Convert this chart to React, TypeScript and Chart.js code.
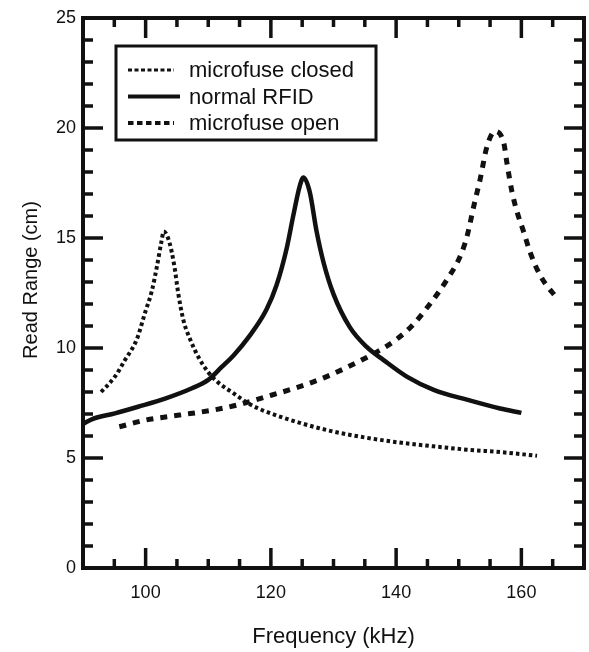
import React, { useEffect, useRef } from 'react';
import { Chart, registerables } from 'chart.js';

Chart.register(...registerables);

// ---- Data ----
const seriesLabels = ['microfuse closed', 'normal RFID', 'microfuse open'];

const closedFreq = [92.9, 95.1, 96.7, 98.6, 99.9, 101.0, 101.8, 102.5, 102.9, 103.8, 104.6, 105.2, 106.0, 107.1, 108.4, 110.0, 111.5, 114.0, 116.6, 119.3, 124.6, 130.0, 135.3, 140.6, 146.0, 151.3, 156.6, 162.5];
const closedRange = [8.0, 8.7, 9.45, 10.4, 11.6, 12.6, 13.7, 14.8, 15.3, 14.8, 13.7, 12.5, 11.3, 10.4, 9.6, 8.9, 8.45, 7.95, 7.45, 7.1, 6.6, 6.2, 5.92, 5.7, 5.53, 5.38, 5.27, 5.1];

const rfidFreq = [90.0, 91.4, 95.1, 98.8, 103.1, 107.4, 110.0, 112.2, 114.0, 116.6, 119.3, 120.9, 122.5, 123.6, 124.6, 125.2, 126.2, 127.3, 128.4, 130.0, 132.6, 135.3, 138.0, 141.7, 146.0, 151.3, 156.6, 160.0];
const rfidRange = [6.55, 6.76, 7.03, 7.33, 7.7, 8.17, 8.55, 9.15, 9.65, 10.55, 11.75, 12.85, 14.5, 16.05, 17.35, 17.75, 17.1, 15.3, 13.9, 12.45, 10.95, 10.05, 9.45, 8.7, 8.1, 7.65, 7.25, 7.05];

const openFreq = [95.8, 100.1, 105.4, 110.8, 114.5, 118.8, 124.1, 128.9, 135.3, 138.0, 140.1, 142.5, 145.4, 148.1, 150.2, 151.3, 152.4, 153.4, 154.5, 155.8, 157.2, 157.7, 158.5, 159.3, 160.4, 161.4, 163.0, 165.7];
const openRange = [6.42, 6.73, 6.95, 7.18, 7.4, 7.75, 8.2, 8.7, 9.57, 10.0, 10.4, 11.0, 12.0, 13.1, 14.15, 15.05, 16.45, 17.65, 19.15, 19.85, 19.3, 18.4, 17.1, 16.2, 15.25, 14.35, 13.3, 12.25];

const xTickValues = [100, 120, 140, 160];
const yTickValues = [0, 5, 10, 15, 20, 25];
const xTickMarks = [95, 100, 105, 110, 115, 120, 125, 130, 135, 140, 145, 150, 155, 160, 165];
const yTickMarks = [1, 2, 3, 4, 5, 6, 7, 8, 9, 10, 11, 12, 13, 14, 15, 16, 17, 18, 19, 20, 21, 22, 23, 24];

const FONT = "'Liberation Sans', Arial, Helvetica, sans-serif";
const INK = '#111111';

const toPoints = (xs: number[], ys: number[]) => xs.map((x, i) => ({ x, y: ys[i] }));

const framePlugin = {
  id: 'frameTicks',
  afterDraw(chart: any) {
    const { ctx, chartArea: a, scales } = chart;
    const xs = scales.x;
    const ys = scales.y;
    ctx.save();
    ctx.strokeStyle = INK;
    ctx.lineWidth = 3.5;
    ctx.lineCap = 'butt';
    ctx.beginPath();
    for (const v of xTickMarks) {
      const len = xTickValues.includes(v) ? 20 : 9;
      const px = xs.getPixelForValue(v);
      ctx.moveTo(px, a.bottom);
      ctx.lineTo(px, a.bottom - len);
      ctx.moveTo(px, a.top);
      ctx.lineTo(px, a.top + len);
    }
    for (const v of yTickMarks) {
      const len = yTickValues.includes(v) ? 20 : 10;
      const py = ys.getPixelForValue(v);
      ctx.moveTo(a.left, py);
      ctx.lineTo(a.left + len, py);
      ctx.moveTo(a.right, py);
      ctx.lineTo(a.right - len, py);
    }
    ctx.stroke();
    ctx.lineWidth = 4;
    ctx.lineJoin = 'miter';
    ctx.strokeRect(a.left, a.top, a.right - a.left, a.bottom - a.top);

    // y axis title
    ctx.fillStyle = INK;
    ctx.font = `20px ${FONT}`;
    ctx.textAlign = 'center';
    ctx.textBaseline = 'middle';
    ctx.translate(31, 280);
    ctx.rotate(-Math.PI / 2);
    ctx.fillText('Read Range (cm)', 0, 0);
    ctx.restore();
  },
};

const legendPlugin = {
  id: 'boxLegend',
  afterDraw(chart: any) {
    const { ctx, chartArea: a } = chart;
    const left = a.left + 33;
    const top = a.top + 28;
    const w = 260;
    const h = 94;
    ctx.save();
    ctx.fillStyle = '#ffffff';
    ctx.fillRect(left, top, w, h);
    ctx.strokeStyle = INK;
    ctx.lineWidth = 3;
    ctx.strokeRect(left, top, w, h);
    const rows = [top + 24, top + 50.5, top + 77];
    chart.data.datasets.forEach((ds: any, i: number) => {
      const y = rows[i];
      ctx.save();
      ctx.strokeStyle = ds.borderColor;
      ctx.lineWidth = i === 0 ? 3 : 4;
      ctx.setLineDash(i === 0 ? [4, 2.5] : i === 2 ? [5.5, 3.5] : []);
      ctx.beginPath();
      ctx.moveTo(left + 12, y);
      ctx.lineTo(left + (i === 1 ? 64 : 58), y);
      ctx.stroke();
      ctx.restore();
      ctx.fillStyle = INK;
      ctx.font = `22px ${FONT}`;
      ctx.textAlign = 'left';
      ctx.textBaseline = 'middle';
      ctx.fillText(ds.label, left + 73, y + 1);
    });
    ctx.restore();
  },
};

export default function App() {
  const canvasRef = useRef<HTMLCanvasElement | null>(null);

  useEffect(() => {
    const canvas = canvasRef.current;
    if (!canvas) return;
    const chart = new Chart(canvas, {
      type: 'line',
      data: {
        datasets: [
          {
            label: seriesLabels[0],
            data: toPoints(closedFreq, closedRange),
            borderColor: INK,
            borderWidth: 4,
            borderDash: [3.5, 3],
            borderCapStyle: 'butt',
            pointRadius: 0,
            fill: false,
            cubicInterpolationMode: 'monotone',
          },
          {
            label: seriesLabels[1],
            data: toPoints(rfidFreq, rfidRange),
            borderColor: INK,
            borderWidth: 4.5,
            pointRadius: 0,
            fill: false,
            cubicInterpolationMode: 'monotone',
          },
          {
            label: seriesLabels[2],
            data: toPoints(openFreq, openRange),
            borderColor: INK,
            borderWidth: 5,
            borderDash: [7, 7],
            borderCapStyle: 'butt',
            pointRadius: 0,
            fill: false,
            cubicInterpolationMode: 'monotone',
          },
        ],
      },
      options: {
        animation: false,
        responsive: false,
        devicePixelRatio: 1,
        layout: { padding: { left: 0, right: 5, top: 18, bottom: 0 } },
        plugins: {
          legend: { display: false },
          tooltip: { enabled: false },
        },
        scales: {
          x: {
            type: 'linear',
            min: 90,
            max: 170,
            grid: { display: false, drawTicks: false },
            border: { display: false },
            afterBuildTicks: (scale: any) => {
              scale.ticks = xTickValues.map((v) => ({ value: v }));
            },
            afterFit: (scale: any) => {
              scale.height = 84;
            },
            ticks: {
              color: INK,
              padding: 14,
              maxRotation: 0,
              font: { family: FONT, size: 18 },
            },
            title: {
              display: true,
              text: 'Frequency (kHz)',
              color: INK,
              font: { family: FONT, size: 22 },
              padding: { top: 0, bottom: 2 },
            },
          },
          y: {
            type: 'linear',
            min: 0,
            max: 25,
            grid: { display: false, drawTicks: false },
            border: { display: false },
            afterBuildTicks: (scale: any) => {
              scale.ticks = yTickValues.map((v) => ({ value: v }));
            },
            afterFit: (scale: any) => {
              scale.width = 83;
            },
            ticks: {
              color: INK,
              padding: 7,
              font: { family: FONT, size: 18 },
            },
            title: { display: false },
          },
        },
      },
      plugins: [framePlugin, legendPlugin],
    } as any);
    return () => chart.destroy();
  }, []);

  return (
    <div style={{ position: 'absolute', left: 0, top: 0, width: 589, height: 652, background: '#ffffff' }}>
      <canvas ref={canvasRef} width={589} height={652} style={{ display: 'block' }} />
    </div>
  );
}
